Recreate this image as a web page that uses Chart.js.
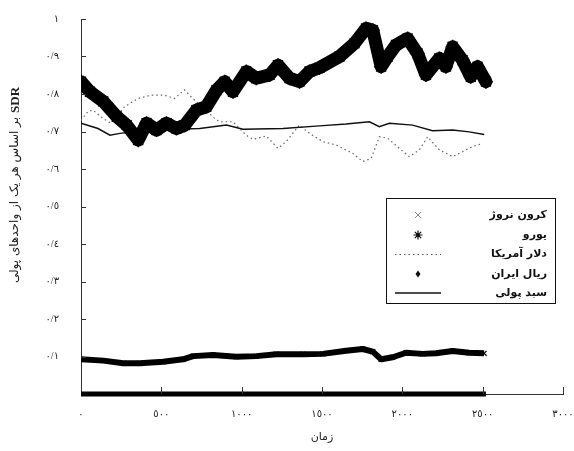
<!DOCTYPE html>
<html>
<head>
<meta charset="utf-8">
<script src="https://cdn.jsdelivr.net/npm/chart.js@4.4.0/dist/chart.umd.min.js"></script>
<style>
  html, body { margin: 0; padding: 0; background: #fff; }
</style>
</head>
<body>
<canvas id="chart" width="574" height="451"></canvas>
<script>
// values (x = time, y = value in SDR)
const euroX = [0, 56, 139, 222, 284, 356, 408, 470, 532, 594, 646, 718, 780, 843, 894, 946, 1029, 1091, 1174, 1226, 1298, 1360, 1422, 1484, 1609, 1702, 1774, 1816, 1868, 1909, 1961, 2033, 2095, 2147, 2230, 2271, 2313, 2375, 2426, 2468, 2520];
const euroY = [0.833, 0.806, 0.78, 0.74, 0.717, 0.677, 0.722, 0.704, 0.722, 0.708, 0.717, 0.757, 0.766, 0.81, 0.833, 0.806, 0.86, 0.842, 0.851, 0.877, 0.842, 0.833, 0.86, 0.87, 0.9, 0.935, 0.975, 0.97, 0.873, 0.9, 0.931, 0.948, 0.908, 0.851, 0.895, 0.873, 0.926, 0.89, 0.846, 0.873, 0.833];

const usdX = [0, 43, 75, 137, 186, 271, 354, 437, 520, 582, 644, 696, 832, 863, 946, 1029, 1070, 1153, 1226, 1277, 1360, 1422, 1505, 1588, 1691, 1753, 1806, 1857, 1909, 1981, 2043, 2106, 2157, 2230, 2313, 2375, 2437, 2499];
const usdY = [0.73, 0.753, 0.757, 0.735, 0.722, 0.766, 0.788, 0.797, 0.797, 0.788, 0.811, 0.788, 0.735, 0.726, 0.726, 0.69, 0.679, 0.688, 0.655, 0.673, 0.717, 0.695, 0.673, 0.664, 0.642, 0.62, 0.628, 0.686, 0.682, 0.655, 0.633, 0.651, 0.686, 0.651, 0.633, 0.646, 0.66, 0.668];

const basketX = [0, 106, 180, 242, 350, 500, 739, 905, 1008, 1257, 1484, 1650, 1795, 1857, 1919, 2064, 2188, 2313, 2416, 2509];
const basketY = [0.722, 0.708, 0.69, 0.695, 0.70, 0.705, 0.708, 0.717, 0.706, 0.708, 0.715, 0.72, 0.726, 0.713, 0.722, 0.717, 0.702, 0.704, 0.699, 0.692];

const kroneX = [0, 139, 263, 366, 511, 635, 698, 822, 967, 1091, 1215, 1381, 1505, 1650, 1753, 1816, 1868, 1940, 2023, 2126, 2209, 2313, 2416, 2509];
const kroneY = [0.0925, 0.089, 0.082, 0.082, 0.086, 0.0925, 0.101, 0.104, 0.0995, 0.101, 0.106, 0.106, 0.107, 0.1155, 0.12, 0.113, 0.0925, 0.098, 0.11, 0.107, 0.1085, 0.1147, 0.11, 0.1085];

const rialX = [0, 500, 1000, 1500, 2000, 2520];
const rialY = [0, 0, 0, 0, 0, 0];

const seriesNames = ['کرون نروژ', 'یورو', 'دلار آمریکا', 'ریال ایران', 'سبد پولی'];
const xTickLabels = ['٠', '٥٠٠', '١٠٠٠', '١٥٠٠', '٢٠٠٠', '٢٥٠٠', '٣٠٠٠'];
const yTickLabels = ['', '٠/١', '٠/٢', '٠/٣', '٠/٤', '٠/٥', '٠/٦', '٠/٧', '٠/٨', '٠/٩', '١'];
const xTitle = 'زمان';
const yTitleText = 'بر اساس هر یک از واحدهای پولی';
const yTitleUnit = 'SDR';

const FONT = "'Liberation Serif', 'DejaVu Sans', serif";

function pts(xs, ys) {
  return xs.map((x, i) => ({ x: x, y: ys[i] }));
}

// inward tick marks on both axes
const innerTicks = {
  id: 'innerTicks',
  afterDatasetsDraw(chart) {
    const ctx = chart.ctx;
    const xs = chart.scales.x, ys = chart.scales.y;
    const a = chart.chartArea;
    ctx.save();
    ctx.strokeStyle = '#333';
    ctx.lineWidth = 1;
    ctx.beginPath();
    ys.ticks.forEach(t => {
      if (t.value === 0) return;
      const py = Math.round(ys.getPixelForValue(t.value)) + 0.5;
      ctx.moveTo(a.left, py);
      ctx.lineTo(a.left + 5, py);
    });
    xs.ticks.forEach(t => {
      if (t.value === 0) return;
      const px = Math.round(xs.getPixelForValue(t.value)) + 0.5;
      ctx.moveTo(px, a.bottom);
      ctx.lineTo(px, a.bottom - 7);
    });
    ctx.stroke();
    ctx.restore();
  }
};

// rotated y title: persian text with bold SDR at its top end
const yTitle = {
  id: 'yTitle',
  afterDraw(chart) {
    const ctx = chart.ctx;
    ctx.save();
    ctx.translate(15, 185);
    ctx.rotate(-Math.PI / 2);
    ctx.fillStyle = '#222';
    ctx.textBaseline = 'middle';
    ctx.textAlign = 'left';
    ctx.font = "12px 'DejaVu Sans'";
    const w1 = ctx.measureText(yTitleText).width;
    ctx.font = "bold 13px 'Liberation Serif'";
    const w2 = ctx.measureText(yTitleUnit).width;
    const start = -(w1 + 4 + w2) / 2;
    ctx.font = "12px 'DejaVu Sans'";
    ctx.fillText(yTitleText, start, 0);
    ctx.font = "bold 13px 'Liberation Serif'";
    ctx.fillText(yTitleUnit, start + w1 + 4, 1);
    ctx.restore();
  }
};

// boxed legend inside the plot
const boxLegend = {
  id: 'boxLegend',
  afterDraw(chart) {
    const ctx = chart.ctx;
    const left = 386, top = 198, right = 555, bottom = 303;
    const rows = [215, 235, 254, 274, 293];
    const mx = 418;
    ctx.save();
    ctx.fillStyle = '#fff';
    ctx.fillRect(left, top, right - left, bottom - top);
    ctx.strokeStyle = '#111';
    ctx.lineWidth = 1;
    ctx.strokeRect(left + 0.5, top + 0.5, right - left, bottom - top);

    ctx.fillStyle = '#111';
    ctx.font = "bold 11px 'DejaVu Sans'";
    ctx.textAlign = 'right';
    ctx.textBaseline = 'middle';
    seriesNames.forEach((n, i) => ctx.fillText(n, 547, rows[i]));

    // krone: small grey x
    ctx.strokeStyle = '#888';
    ctx.lineWidth = 1;
    ctx.beginPath();
    ctx.moveTo(mx - 3, rows[0] - 3); ctx.lineTo(mx + 3, rows[0] + 3);
    ctx.moveTo(mx + 3, rows[0] - 3); ctx.lineTo(mx - 3, rows[0] + 3);
    ctx.stroke();

    // euro: asterisk
    ctx.strokeStyle = '#111';
    ctx.lineWidth = 1.2;
    ctx.beginPath();
    for (let k = 0; k < 4; k++) {
      const ang = k * Math.PI / 4;
      ctx.moveTo(mx - 4.5 * Math.cos(ang), rows[1] - 4.5 * Math.sin(ang));
      ctx.lineTo(mx + 4.5 * Math.cos(ang), rows[1] + 4.5 * Math.sin(ang));
    }
    ctx.stroke();
    ctx.beginPath();
    ctx.arc(mx, rows[1], 2, 0, Math.PI * 2);
    ctx.fill();

    // usd: dotted line
    ctx.strokeStyle = '#555';
    ctx.lineWidth = 1;
    ctx.setLineDash([1.5, 3]);
    ctx.beginPath();
    ctx.moveTo(395, rows[2] + 0.5); ctx.lineTo(441, rows[2] + 0.5);
    ctx.stroke();
    ctx.setLineDash([]);

    // rial: small diamond
    ctx.beginPath();
    ctx.moveTo(mx, rows[3] - 3.5);
    ctx.lineTo(mx + 2.5, rows[3]);
    ctx.lineTo(mx, rows[3] + 3.5);
    ctx.lineTo(mx - 2.5, rows[3]);
    ctx.closePath();
    ctx.fill();

    // basket: solid line
    ctx.strokeStyle = '#111';
    ctx.lineWidth = 1.5;
    ctx.beginPath();
    ctx.moveTo(395, rows[4]); ctx.lineTo(441, rows[4]);
    ctx.stroke();
    ctx.restore();
  }
};

new Chart(document.getElementById('chart'), {
  type: 'line',
  data: {
    datasets: [
      {
        label: seriesNames[1],
        data: pts(euroX, euroY),
        borderColor: '#000',
        backgroundColor: '#000',
        borderWidth: 13,
        borderJoinStyle: 'round',
        borderCapStyle: 'round',
        pointStyle: 'star',
        pointRadius: 7,
        pointBorderWidth: 1.5,
        order: 0
      },
      {
        label: seriesNames[4],
        data: pts(basketX, basketY),
        borderColor: '#111',
        borderWidth: 1.5,
        pointRadius: 0,
        order: 1
      },
      {
        label: seriesNames[2],
        data: pts(usdX, usdY),
        borderColor: '#666',
        borderWidth: 1.2,
        borderDash: [1.5, 3],
        pointRadius: 0,
        order: 2
      },
      {
        label: seriesNames[0],
        data: pts(kroneX, kroneY),
        borderColor: '#000',
        backgroundColor: '#000',
        borderWidth: 6,
        borderJoinStyle: 'round',
        pointStyle: 'crossRot',
        pointRadius: 3.5,
        pointBorderWidth: 1.2,
        order: 3
      },
      {
        label: seriesNames[3],
        data: pts(rialX, rialY),
        borderColor: '#000',
        borderWidth: 5,
        pointRadius: 0,
        clip: 8,
        order: 4
      }
    ]
  },
  options: {
    responsive: false,
    animation: false,
    layout: { padding: { top: 19, right: 11, left: 0, bottom: 0 } },
    plugins: {
      legend: { display: false },
      tooltip: { enabled: false }
    },
    scales: {
      x: {
        type: 'linear',
        min: 0,
        max: 3000,
        grid: { display: false },
        border: { display: true, color: '#333', width: 1 },
        ticks: {
          stepSize: 500,
          padding: 6,
          maxRotation: 0,
          color: '#222',
          font: { family: FONT, size: 10 },
          callback: (v, i) => xTickLabels[i]
        },
        title: {
          display: true,
          text: xTitle,
          color: '#222',
          font: { family: "'DejaVu Sans'", size: 11 },
          padding: { top: 0, bottom: 7 }
        },
        afterFit: s => { s.height = 57; s.paddingLeft = 0; s.paddingRight = 0; }
      },
      y: {
        min: 0,
        max: 1,
        grid: { display: false },
        border: { display: true, color: '#333', width: 1 },
        ticks: {
          stepSize: 0.1,
          padding: 14,
          color: '#222',
          font: { family: FONT, size: 10 },
          callback: (v, i) => yTickLabels[i]
        },
        afterFit: s => { s.width = 81; s.paddingTop = 0; s.paddingBottom = 0; }
      }
    }
  },
  plugins: [innerTicks, yTitle, boxLegend]
});
</script>
</body>
</html>
